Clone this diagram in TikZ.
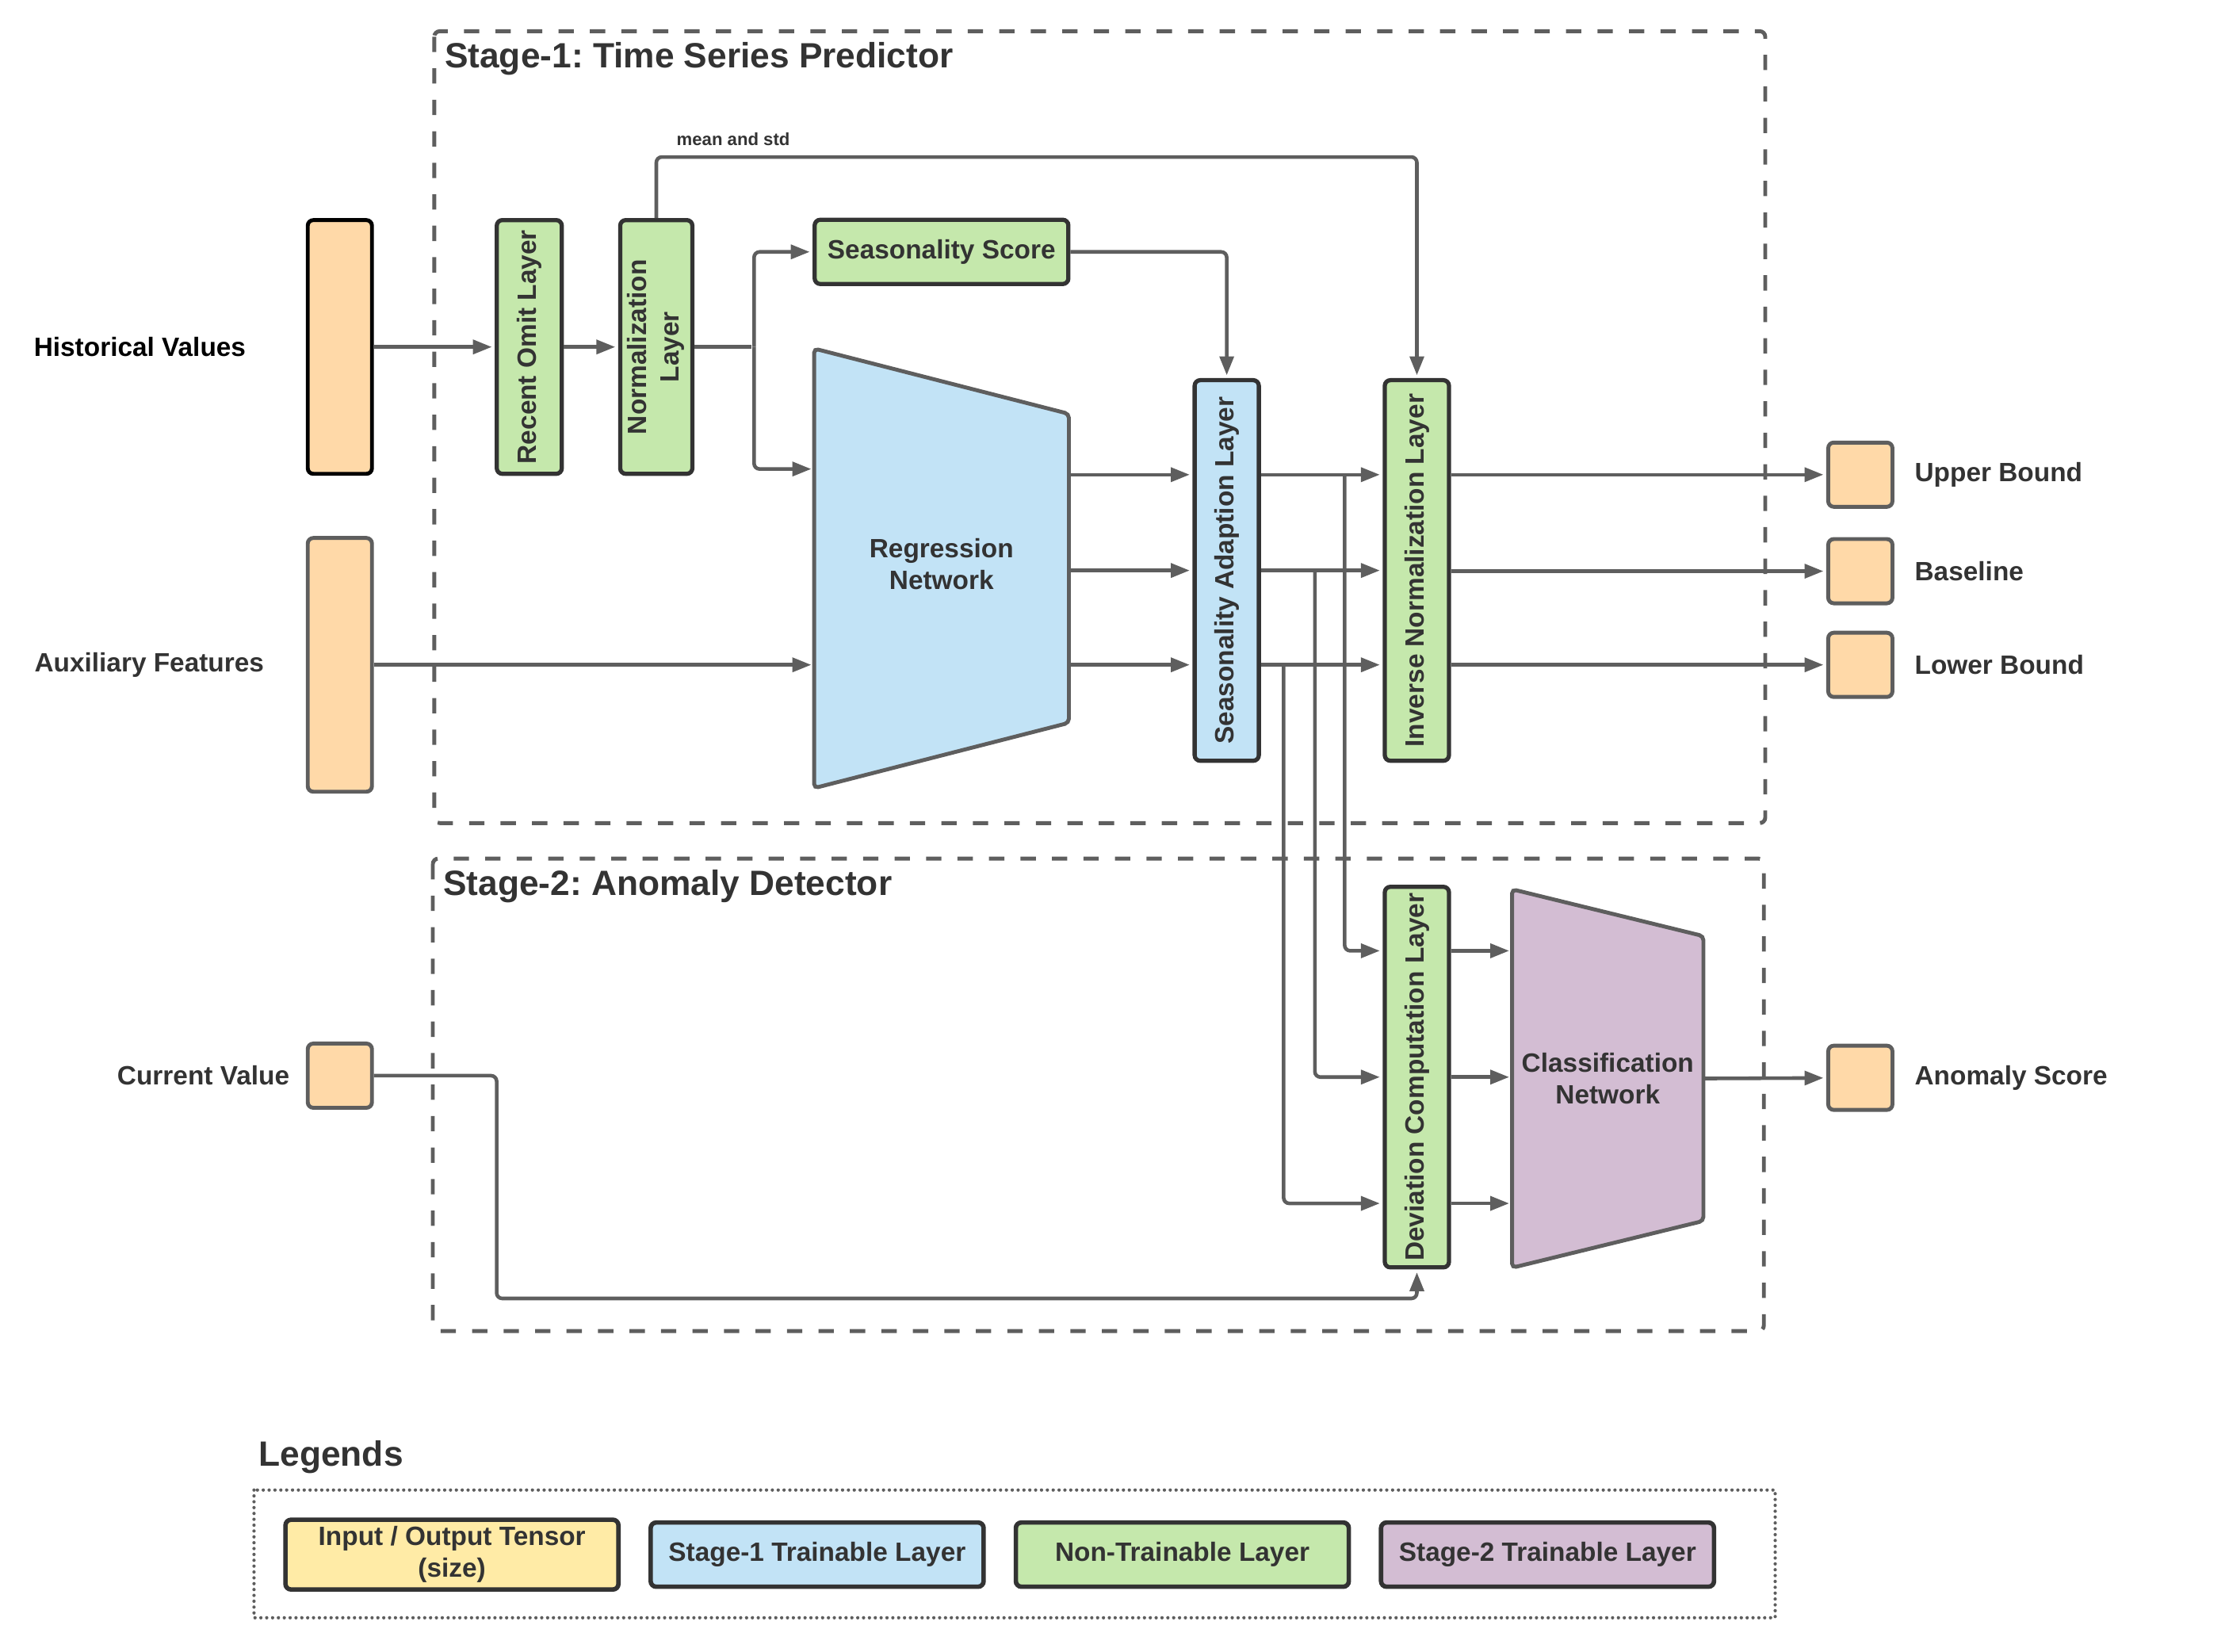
\documentclass[tikz,border=0pt]{standalone}
\usepackage{fontspec}
\setmainfont{Liberation Sans}
\usepackage{tikz}
\usetikzlibrary{arrows.meta,positioning,calc}
\frenchspacing

\definecolor{tensorc}{HTML}{FFD9A8}
\definecolor{ioc}{HTML}{FFEBA6}
\definecolor{stageone}{HTML}{C2E3F6}
\definecolor{nontrain}{HTML}{C5E8AC}
\definecolor{stagetwo}{HTML}{D3BDD3}
\definecolor{linegray}{HTML}{5E5E5E}
\definecolor{boxline}{HTML}{333333}
\definecolor{txtgray}{HTML}{333333}

\tikzset{
  body/.style={font=\bfseries\fontsize{9.5}{11.4}\selectfont, text=txtgray},
  lbl/.style={body, inner sep=0pt},
  small/.style={font=\bfseries\fontsize{6.3}{7.5}\selectfont, text=txtgray, inner sep=0pt},
  title/.style={font=\bfseries\fontsize{12.6}{15}\selectfont, text=txtgray, inner sep=0pt},
  tensor/.style={draw=linegray, fill=tensorc, line width=1.4pt, rounded corners=2pt,
    minimum width=0.81cm, minimum height=0.81cm, inner sep=0pt},
  layer/.style={body, draw=boxline, line width=1.5pt, rounded corners=2pt, inner sep=0pt,
    minimum width=0.81cm, minimum height=4.8cm},
  netw/.style={inner sep=0pt},
  nettext/.style={body, align=center, inner sep=0pt},
  netline/.style={draw=linegray, line width=1.4pt, rounded corners=1.5pt},
  conn/.style={draw=linegray, line width=1.3pt, rounded corners=2pt},
  stagebox/.style={draw=linegray, line width=1.4pt, dash pattern=on 5.5pt off 5.8pt, rounded corners=2pt},
  legframe/.style={draw=linegray, line width=1.2pt, line cap=round, dash pattern=on 0pt off 2.1pt},
  legbox/.style={body, draw=boxline, line width=1.6pt, rounded corners=2pt, align=center,
    minimum width=4.2cm, minimum height=0.81cm, inner sep=0pt}
}

\begin{document}
\begin{tikzpicture}[x=0.0179cm, y=-0.0179cm, >={Triangle[length=6.8pt,width=5pt]},
  shorten >=1pt, node distance=0.35cm]
  \useasboundingbox (0,0) rectangle (1568,1163.6);

  % stages
  \draw[stagebox] (306,22) rectangle (1244,580);
  \node[title, anchor=base west] (s1title) at (313,48) {Stage-1: Time Series Predictor};
  \draw[stagebox] (305,605) rectangle (1243,938);
  \node[title, anchor=base west] (s2title) at (312,631) {Stage-2: Anomaly Detector};

  % inputs
  \node[tensor, draw=black, minimum height=3.2cm] (hist) at (239.5,244.5) {};
  \node[tensor, minimum height=3.2cm] (aux) at (239.5,468.5) {};
  \node[tensor] (cur) at (239.5,758) {};
  \node[lbl, text=black, left=0.75cm of hist] (histlbl) {Historical Values};
  \node[lbl, left=0.52cm of aux] (auxlbl) {Auxiliary Features};
  \node[lbl, left=0.2cm of cur] (curlbl) {Current Value};

  % stage-1 layers
  \node[layer, fill=nontrain, minimum width=0.82cm, minimum height=3.2cm] (omit) at (373,244.5)
    {\rotatebox{90}{Recent Omit Layer}};
  \node[layer, fill=nontrain, minimum width=0.91cm, minimum height=3.2cm] (norm) at (462.5,244.5)
    {\rotatebox{90}{\begin{tabular}{@{}c@{}}Normalization\\Layer\end{tabular}}};
  \node[layer, fill=nontrain, minimum width=3.2cm, minimum height=0.81cm] (sscore) at (663.5,177.5)
    {Seasonality Score};
  \node[netw, minimum width=3.2cm, minimum height=5.53cm] (reg) at (663.5,400.5) {};
  \draw[netline, fill=stageone] (reg.north west) -- ($(reg.north east)+(0,46)$)
    -- ($(reg.south east)+(0,-46)$) -- (reg.south west) -- cycle;
  \node[nettext] (regtxt) at ($(reg)+(0,-3)$) {Regression\\Network};
  \node[layer, fill=stageone] (sal) at (864.5,402) {\rotatebox{90}{Seasonality Adaption Layer}};
  \node[layer, fill=nontrain] (inl) at (998.5,402) {\rotatebox{90}{Inverse Normalization Layer}};

  % outputs
  \node[tensor] (ub) at (1311,334.5) {};
  \node[tensor] (base) at (1311,402.5) {};
  \node[tensor] (lb) at (1311,468.5) {};
  \node[lbl, right=0.25cm of ub] (ublbl) {Upper Bound};
  \node[lbl, right=0.25cm of base] (baselbl) {Baseline};
  \node[lbl, right=0.25cm of lb] (lblbl) {Lower Bound};

  % stage-2 layers
  \node[layer, fill=nontrain] (dcl) at (998.5,759) {\rotatebox{90}{Deviation Computation Layer}};
  \node[netw, minimum width=2.4cm, minimum height=4.76cm] (cn) at (1133,760) {};
  \draw[netline, fill=stagetwo] (cn.north west) -- ($(cn.north east)+(0,33)$)
    -- ($(cn.south east)+(0,-33)$) -- (cn.south west) -- cycle;
  \node[nettext] (cntxt) at (cn) {Classification\\Network};
  \node[tensor] (anom) at (1311,759.5) {};
  \node[lbl, right=0.25cm of anom] (anomlbl) {Anomaly Score};

  % connectors
  \draw[conn,->] (hist) -- (omit);
  \draw[conn,->] (omit) -- (norm);
  \coordinate (nsplit) at ($(norm.east)+(42,0)$);
  \draw[conn] (norm.east) -- (nsplit);
  \draw[conn,->] (nsplit) |- (sscore.west);
  \draw[conn,->] (nsplit) |- ($(reg.west)+(0,-70)$);
  \coordinate (msturn) at ($(norm.north)+(0,-43)$);
  \draw[conn,->] (norm.north) -- (msturn) -| (inl.north);
  \node[small, anchor=base west] (mslbl) at ($(msturn)+(14,-8)$) {mean and std};
  \draw[conn,->] (sscore.east) -| (sal.north);
  \draw[conn,->] (aux.east) -- (reg.west |- aux);
  \foreach \lvl in {ub,sal,lb}
    \draw[conn,->] (reg.east |- \lvl) -- (sal.west |- \lvl);
  \foreach \lvl in {ub,sal,lb}
    \draw[conn,->] (sal.east |- \lvl) -- (inl.west |- \lvl);
  \foreach \lvl in {ub,base,lb}
    \draw[conn,->] (inl.east |- \lvl) -- (\lvl);

  \coordinate (d1) at ($(dcl.west)+(0,-89)$);
  \coordinate (d3) at ($(dcl.west)+(0,89)$);
  \draw[conn,->] ($(sal.east |- ub)+(59,0)$) |- (d1);
  \draw[conn,->] ($(sal.east)+(38,0)$) |- (dcl.west);
  \draw[conn,->] ($(sal.east |- lb)+(16,0)$) |- (d3);
  \foreach \lvl in {d1,dcl,d3}
    \draw[conn,->] (dcl.east |- \lvl) -- (cn.west |- \lvl);
  \draw[conn,->] (cn.east) -- (anom);
  \coordinate (cvturn) at (350,915);
  \draw[conn,->] (cur.east) -| (cvturn) -| (dcl.south);

  % legends
  \node[title, anchor=base west] (legtitle) at (182,1033) {Legends};
  \draw[legframe] (179,1050) rectangle (1251,1140);
  \node[legbox, fill=ioc, minimum height=0.88cm] (legio) at (318.5,1095.5) {Input / Output Tensor\\(size)};
  \node[legbox, fill=stageone, right=of legio] (legs1) {Stage-1 Trainable Layer};
  \node[legbox, fill=nontrain, right=of legs1] (legnt) {Non-Trainable Layer};
  \node[legbox, fill=stagetwo, right=of legnt] (legs2) {Stage-2 Trainable Layer};
\end{tikzpicture}
\end{document}
